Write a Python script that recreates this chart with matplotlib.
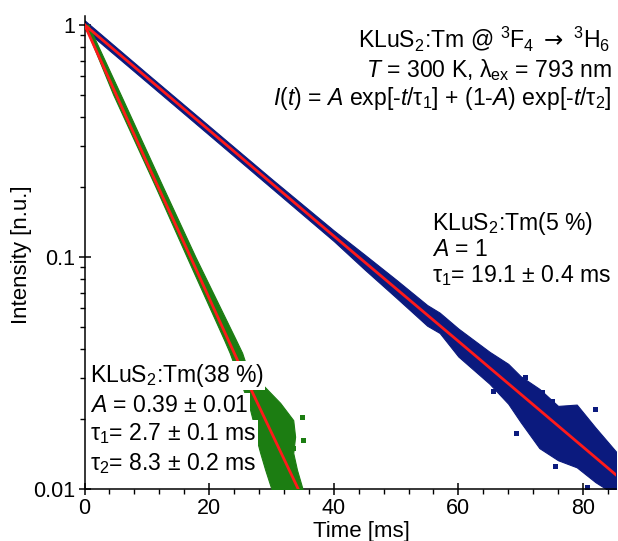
import numpy as np
import matplotlib
matplotlib.use("Agg")
import matplotlib.pyplot as plt
from matplotlib.ticker import FixedLocator, LogLocator, NullFormatter, FixedFormatter

plt.rcParams['font.family'] = ['Liberation Sans', 'DejaVu Sans']
plt.rcParams['mathtext.fontset'] = 'custom'
plt.rcParams['mathtext.rm'] = 'Liberation Sans'
plt.rcParams['mathtext.it'] = 'Liberation Sans:italic'
plt.rcParams['mathtext.bf'] = 'Liberation Sans:bold'
plt.rcParams['mathtext.sf'] = 'DejaVu Sans'

# ---- data ----
# KLuS2:Tm(5 %) measured decay: envelope of the point cloud
blue_t = [0, 10, 20, 30, 40, 45, 50, 55, 57, 60, 65, 68, 70, 73, 76, 79, 82, 85.3]
blue_hi = [1.045, 0.617, 0.366, 0.217, 0.130, 0.102, 0.0798, 0.0620, 0.0575, 0.0491,
           0.0390, 0.0346, 0.0306, 0.0270, 0.0228, 0.0231, 0.0184, 0.0145]
blue_lo = [0.955, 0.566, 0.335, 0.198, 0.117, 0.088, 0.0668, 0.0505, 0.0470, 0.0372,
           0.0284, 0.0233, 0.0194, 0.0150, 0.0133, 0.0124, 0.0107, 0.0094]
# isolated blue points
blue_out_t = [65.5, 70.7, 73.4, 75.0, 69.3, 75.5, 81.9, 80.7]
blue_out_I = [0.0264, 0.0304, 0.0262, 0.0239, 0.0174, 0.01257, 0.0221, 0.0102]
# fit line for 5 %
blue_fit_t = [0, 20, 40, 60, 85.3]
blue_fit_I = [1.0, 0.351, 0.123, 0.0433, 0.0115]

# KLuS2:Tm(38 %) measured decay: envelope (time span per intensity level)
green_I = [1.0, 0.5, 0.2, 0.1, 0.0439, 0.0386, 0.0326, 0.0281, 0.0235,
           0.0198, 0.0168, 0.0143, 0.0121, 0.0100]
green_tl = [0, 4.6, 11.4, 16.4, 22.4, 23.3, 24.3, 25.2, 26.3, 27.0, 27.5,
            28.2, 29.0, 30.0]
green_tr = [0.6, 5.8, 12.6, 17.8, 24.3, 25.3, 26.2, 28.6, 31.4, 33.5, 33.8,
            33.5, 34.1, 35.0]
green_out_t = [34.9, 35.1, 33.4]
green_out_I = [0.0205, 0.0163, 0.0150]
# fit line for 38 %
green_fit_t = [0, 10, 17, 21, 26, 34.3]
green_fit_I = [1.0, 0.255, 0.1, 0.058, 0.0295, 0.0100]

x_major = [0, 20, 40, 60, 80]
y_major = [0.01, 0.1, 1]
y_major_labels = ['0.01', '0.1', '1']

navy = '#0b1a7e'
green = '#1c7d12'
red = '#ff1a1a'

fig = plt.figure(figsize=(6.18, 5.41), dpi=100)
ax = fig.add_axes([84.5/618, 1-489/541, (616-84.5)/618, (489-16)/541])
ax.set_yscale('log')
ax.set_xlim(0, 85.3)
ax.set_ylim(0.01, 1.09)

ax.fill_between(blue_t, blue_lo, blue_hi, color=navy, lw=0.8, ec=navy, zorder=2)
ax.plot(blue_out_t, blue_out_I, 's', color=navy, ms=3.6, mew=0, zorder=2)
ax.fill_betweenx(green_I, green_tl, green_tr, color=green, lw=0.8, ec=green, zorder=3)
ax.plot(green_out_t, green_out_I, 's', color=green, ms=3.6, mew=0, zorder=3)
ax.plot(blue_fit_t, blue_fit_I, color=red, lw=2.0, zorder=4)
ax.plot(green_fit_t, green_fit_I, color=red, lw=2.0, zorder=4)

for s in ['top', 'right']:
    ax.spines[s].set_visible(False)
for s in ['left', 'bottom']:
    ax.spines[s].set_linewidth(1.1)

ax.xaxis.set_major_locator(FixedLocator(x_major))
ax.xaxis.set_minor_locator(FixedLocator(np.arange(0, 86, 4)))
ax.yaxis.set_major_locator(FixedLocator(y_major))
ax.yaxis.set_major_formatter(FixedFormatter(y_major_labels))
ax.yaxis.set_minor_locator(LogLocator(base=10, subs=np.arange(2, 10)))
ax.yaxis.set_minor_formatter(NullFormatter())
ax.tick_params(which='major', direction='inout', length=9, width=1.1,
               labelsize=15.5, pad=2)
ax.tick_params(which='minor', direction='out', length=3.8, width=1.0)

fig.text(361/618, 1-532/541, 'Time [ms]', ha='center', va='center', fontsize=16)
fig.text(22/618, 1-255/541, 'Intensity [n.u.]', ha='center', va='center',
         rotation=90, fontsize=16)

fs = 16.6
def ftxt(x, y, s, ha='left', box=False):
    kw = {}
    if box:
        kw['bbox'] = dict(facecolor='white', edgecolor='none', pad=1.0)
    fig.text(x/618, 1-y/541, s, ha=ha, va='baseline', fontsize=fs, zorder=10, **kw)

ftxt(610, 47, r'KLuS$_2$:Tm @ $^3$F$_4$ $\mathsf{\rightarrow}$ $^3$H$_6$', ha='right')
ftxt(612, 77, r'$T$ = 300 K, λ$_\mathrm{ex}$ = 793 nm', ha='right')
ftxt(612, 105, r'$I$($t$) = $A$ exp[-$t$/τ$_1$] + (1-$A$) exp[-$t$/τ$_2$]', ha='right')

ftxt(432, 230, r'KLuS$_2$:Tm(5 %)')
ftxt(432, 256, r'$A$ = 1')
ftxt(432, 282, r'τ$_1$= 19.1 ± 0.4 ms')

ftxt(90, 382, r'KLuS$_2$:Tm(38 %)', box=True)
ftxt(90, 412, r'$A$ = 0.39 ± 0.01', box=True)
ftxt(90, 440, r'τ$_1$= 2.7 ± 0.1 ms', box=True)
ftxt(90, 470, r'τ$_2$= 8.3 ± 0.2 ms', box=True)

fig.savefig('out.png', dpi=100)
